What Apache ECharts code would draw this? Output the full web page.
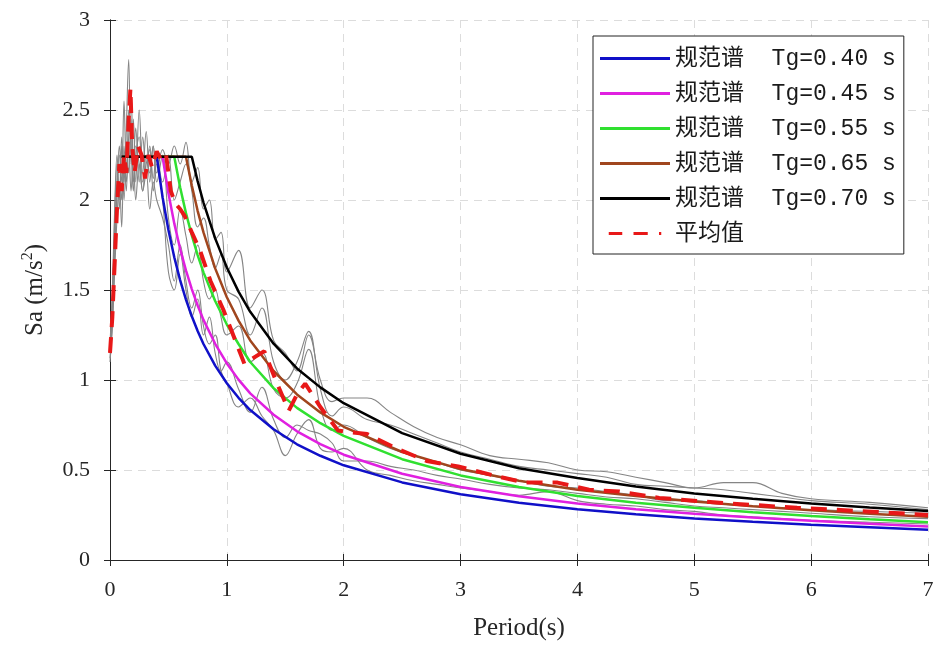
<!DOCTYPE html>
<html>
<head>
<meta charset="utf-8">
<script src="https://cdn.jsdelivr.net/npm/echarts@6/dist/echarts.min.js"></script>
<style>
  html, body { margin: 0; padding: 0; background: #fff; }
  #chart { width: 938px; height: 652px; }
</style>
</head>
<body>
<div id="chart"></div>
<script>
// periods for the code spectra (s)
const codeT = [0.1, 0.4, 0.45, 0.5, 0.55, 0.6, 0.65, 0.7, 0.75, 0.8, 0.9, 1.0, 1.1, 1.2, 1.4, 1.6, 1.8, 2.0,
  2.5, 3.0, 3.5, 4.0, 4.5, 5.0, 5.5, 6.0, 6.5, 7.0]
const tg40 = [2.24, 2.24, 2.015, 1.833, 1.682, 1.555, 1.447, 1.354, 1.272, 1.2, 1.08, 0.982, 0.901, 0.833, 0.726, 0.643, 0.579, 0.526,
  0.431, 0.365, 0.318, 0.282, 0.254, 0.231, 0.212, 0.196, 0.182, 0.168]
const tg45 = [2.24, 2.24, 2.24, 2.037, 1.87, 1.729, 1.609, 1.505, 1.414, 1.334, 1.201, 1.092, 1.002, 0.926, 0.807, 0.715, 0.644, 0.585,
  0.479, 0.406, 0.354, 0.314, 0.282, 0.257, 0.236, 0.218, 0.202, 0.186]
const tg55 = [2.24, 2.24, 2.24, 2.24, 2.24, 2.071, 1.927, 1.804, 1.694, 1.598, 1.439, 1.308, 1.2, 1.1, 0.955, 0.845, 0.76, 0.69,
  0.56, 0.47, 0.405, 0.355, 0.318, 0.29, 0.265, 0.245, 0.227, 0.21]
const tg65 = [2.24, 2.24, 2.24, 2.24, 2.24, 2.24, 2.24, 2.08, 1.94, 1.82, 1.62, 1.46, 1.33, 1.22, 1.05, 0.92, 0.82, 0.74,
  0.6, 0.505, 0.44, 0.39, 0.355, 0.325, 0.298, 0.276, 0.257, 0.24]
const tg70 = [2.24, 2.24, 2.24, 2.24, 2.24, 2.24, 2.24, 2.24, 2.105, 1.986, 1.787, 1.625, 1.491, 1.379, 1.202, 1.064, 0.959, 0.871,
  0.705, 0.59, 0.51, 0.455, 0.408, 0.37, 0.34, 0.314, 0.292, 0.272]

// mean of the records
const meanT = [0, 0.02, 0.04, 0.06, 0.08, 0.1, 0.12, 0.14, 0.16, 0.175, 0.19, 0.21, 0.24, 0.27, 0.3, 0.33, 0.36, 0.4, 0.44, 0.48,
  0.52, 0.56, 0.6, 0.64, 0.7, 0.77, 0.86, 0.97, 1.06, 1.15, 1.22, 1.32, 1.43, 1.53, 1.6, 1.67, 1.8, 1.95, 2.05, 2.2,
  2.45, 2.71, 2.98, 3.28, 3.55, 3.83, 4.1, 4.36, 4.7, 5.28, 5.88, 6.48, 7.0]
const meanSa = [1.15, 1.35, 1.65, 1.95, 2.2, 2.05, 2.25, 2.15, 2.45, 2.62, 2.3, 2.15, 2.3, 2.25, 2.12, 2.25, 2.18, 2.27, 2.22, 2.25,
  2.05, 1.98, 1.95, 1.91, 1.82, 1.72, 1.55, 1.39, 1.24, 1.09, 1.12, 1.16, 0.98, 0.83, 0.92, 0.98, 0.85, 0.72, 0.71, 0.7,
  0.62, 0.55, 0.52, 0.47, 0.43, 0.43, 0.39, 0.38, 0.345, 0.315, 0.29, 0.27, 0.25]

// individual records (grey)
const recT = [0, 0.02, 0.04, 0.06, 0.08, 0.1, 0.12, 0.14, 0.16, 0.18,
  0.2, 0.22, 0.25, 0.28, 0.31, 0.34, 0.37, 0.4, 0.45, 0.5,
  0.55, 0.6, 0.65, 0.7, 0.75, 0.8, 0.85, 0.9, 0.95, 1.0,
  1.1, 1.2, 1.3, 1.4, 1.5, 1.6, 1.7, 1.8, 1.9, 2.0,
  2.2, 2.4, 2.6, 2.8, 3.0, 3.25, 3.5, 3.75, 4.0, 4.25,
  4.5, 4.75, 5.0, 5.25, 5.5, 5.75, 6.0, 6.5, 7.0]
const rec1 = [1.12, 1.4, 1.9, 2.2, 1.95, 2.3, 2.0, 2.4, 2.78, 2.2,
  2.45, 2.1, 2.5, 2.15, 2.38, 2.1, 2.3, 2.15, 2.28, 2.2,
  2.3, 2.2, 2.32, 2.1, 2.18, 1.95, 2.0, 1.78, 1.82, 1.6,
  1.72, 1.4, 1.5, 1.22, 1.15, 1.05, 1.25, 1.0, 0.88, 0.9,
  0.9, 0.82, 0.74, 0.68, 0.64, 0.58, 0.56, 0.54, 0.5, 0.49,
  0.46, 0.43, 0.4, 0.43, 0.43, 0.37, 0.34, 0.32, 0.29]
const rec2 = [1.1, 1.3, 1.7, 2.05, 2.3, 2.1, 2.55, 2.2, 2.35, 2.6,
  2.2, 2.4, 2.1, 2.35, 2.15, 2.3, 2.12, 2.25, 2.1, 2.25,
  2.0, 2.1, 2.2, 2.05, 1.85, 1.9, 1.75, 1.62, 1.7, 1.5,
  1.45, 1.25, 1.4, 1.1, 1.0, 1.1, 1.27, 0.95, 0.8, 0.85,
  0.78, 0.75, 0.7, 0.65, 0.6, 0.56, 0.52, 0.5, 0.48, 0.46,
  0.42, 0.41, 0.4, 0.39, 0.37, 0.35, 0.33, 0.31, 0.28]
const rec3 = [1.18, 1.45, 1.8, 2.1, 2.25, 2.0, 2.2, 2.05, 2.5, 2.3,
  2.05, 2.3, 2.2, 2.05, 2.25, 2.15, 2.3, 2.1, 2.25, 1.9,
  1.75, 1.95, 1.8, 1.65, 1.75, 1.55, 1.45, 1.5, 1.35, 1.25,
  1.3, 1.1, 1.15, 0.95, 0.9, 0.98, 1.17, 0.85, 0.72, 0.75,
  0.68, 0.62, 0.58, 0.54, 0.5, 0.47, 0.44, 0.41, 0.4, 0.38,
  0.36, 0.33, 0.33, 0.31, 0.3, 0.29, 0.28, 0.27, 0.26]
const rec4 = [1.15, 1.3, 1.6, 1.9, 2.1, 1.85, 2.3, 2.1, 2.3, 2.05,
  2.25, 2.0, 2.2, 2.05, 2.15, 1.95, 2.1, 2.0, 1.9, 1.75,
  1.55, 1.75, 1.55, 1.4, 1.5, 1.3, 1.2, 1.25, 1.05, 0.98,
  0.85, 0.9, 0.8, 0.72, 0.58, 0.7, 0.78, 0.62, 0.6, 0.62,
  0.5, 0.47, 0.44, 0.42, 0.4, 0.38, 0.36, 0.38, 0.33, 0.31,
  0.3, 0.28, 0.27, 0.25, 0.24, 0.23, 0.22, 0.21, 0.2]
const rec5 = [1.2, 1.5, 1.95, 2.25, 2.0, 2.35, 2.1, 2.3, 2.15, 2.45,
  2.1, 2.25, 2.35, 2.1, 2.2, 2.28, 2.05, 2.2, 2.0, 1.6,
  1.5, 1.7, 1.5, 1.35, 1.45, 1.25, 1.35, 1.15, 1.05, 1.1,
  0.95, 0.82, 0.96, 0.78, 0.68, 0.75, 0.72, 0.7, 0.65, 0.55,
  0.55, 0.52, 0.5, 0.47, 0.45, 0.42, 0.4, 0.39, 0.37, 0.35,
  0.34, 0.32, 0.3, 0.29, 0.28, 0.27, 0.26, 0.24, 0.23]

const codeNames = ['规范谱  Tg=0.40 s', '规范谱  Tg=0.45 s', '规范谱  Tg=0.55 s', '规范谱  Tg=0.65 s', '规范谱  Tg=0.70 s']
const codeColors = ['#1010c8', '#e020e0', '#30e030', '#a0461e', '#000000']
const meanName = '平均值'

const pairs = (ts, vs) => ts.map((t, i) => [t, vs[i]])

const serif = '"Liberation Serif", "Times New Roman", serif'
const chart = echarts.init(document.getElementById('chart'))

const greySeries = [rec1, rec2, rec3, rec4, rec5].map(r => ({
  type: 'line',
  data: pairs(recT, r),
  symbol: 'none',
  smooth: 0.4,
  silent: true,
  lineStyle: { color: '#858585', width: 1.1 }
}))

const codeSeries = [tg40, tg45, tg55, tg65, tg70].map((v, i) => ({
  name: codeNames[i],
  type: 'line',
  data: pairs(codeT, v),
  symbol: 'none',
  color: codeColors[i],
  lineStyle: { color: codeColors[i], width: 2.5 }
}))

// legend icons: plain bar for the code spectra, dash-dash-dot for the mean
const legendItems = codeNames.map(n => ({ name: n, icon: 'rect' }))
legendItems.push({ name: meanName, icon: 'path://M0,0h18v4h-18z M33,0h19v4h-19z M67,0h3v4h-3z' })

chart.setOption({
  animation: false,
  grid: { left: 110, right: 10, top: 20, bottom: 92 },
  legend: {
    data: legendItems,
    orient: 'vertical',
    left: 593,
    top: 36,
    itemWidth: 70,
    itemHeight: 3,
    itemGap: 12,
    padding: [11, 8, 9, 7],
    borderColor: '#222',
    borderWidth: 1,
    backgroundColor: '#fff',
    textStyle: { fontFamily: '"Liberation Mono", "Noto Sans CJK SC", monospace', fontSize: 23, color: '#1a1a1a' }
  },
  xAxis: [{
    type: 'value', min: 0, max: 7, interval: 1,
    name: 'Period(s)', nameLocation: 'middle', nameGap: 56,
    nameTextStyle: { fontFamily: serif, fontSize: 25, color: '#262626' },
    axisLine: { onZero: false, lineStyle: { color: '#262626' } },
    axisTick: { inside: true, length: 6, lineStyle: { color: '#262626' } },
    axisLabel: { fontFamily: serif, fontSize: 22, color: '#262626', margin: 19 },
    splitLine: { lineStyle: { color: '#dcdcdc', type: [8, 6] } }
  }, {
    type: 'value', min: 0, max: 7, interval: 1, position: 'top',
    axisLine: { show: true, lineStyle: { color: '#262626' } },
    axisTick: { inside: true, length: 6, lineStyle: { color: '#262626' } },
    axisLabel: { show: false }, splitLine: { show: false }
  }],
  yAxis: [{
    type: 'value', min: 0, max: 3, interval: 0.5,
    name: '{a|Sa (m/s}{b|2}{a|)}', nameLocation: 'middle', nameGap: 60,
    nameTextStyle: {
      rich: {
        a: { fontFamily: serif, fontSize: 25, color: '#262626', lineHeight: 30 },
        b: { fontFamily: serif, fontSize: 16, color: '#262626', verticalAlign: 'top', lineHeight: 16 }
      }
    },
    axisLine: { show: true, onZero: false, lineStyle: { color: '#262626' } },
    axisTick: { inside: true, length: 6, lineStyle: { color: '#262626' } },
    axisLabel: { fontFamily: serif, fontSize: 22, color: '#262626', margin: 20 },
    splitLine: { lineStyle: { color: '#dcdcdc', type: [8, 6] } }
  }, {
    type: 'value', min: 0, max: 3, interval: 0.5, position: 'right',
    axisLine: { show: true, lineStyle: { color: '#262626' } },
    axisTick: { inside: true, length: 6, lineStyle: { color: '#262626' } },
    axisLabel: { show: false }, splitLine: { show: false }
  }],
  series: greySeries.concat(codeSeries, [{
    name: meanName,
    type: 'line',
    data: pairs(meanT, meanSa),
    symbol: 'none',
    color: '#e81818',
    lineStyle: { color: '#e81818', width: 4, type: [16, 10] }
  }])
})
</script>
</body>
</html>
